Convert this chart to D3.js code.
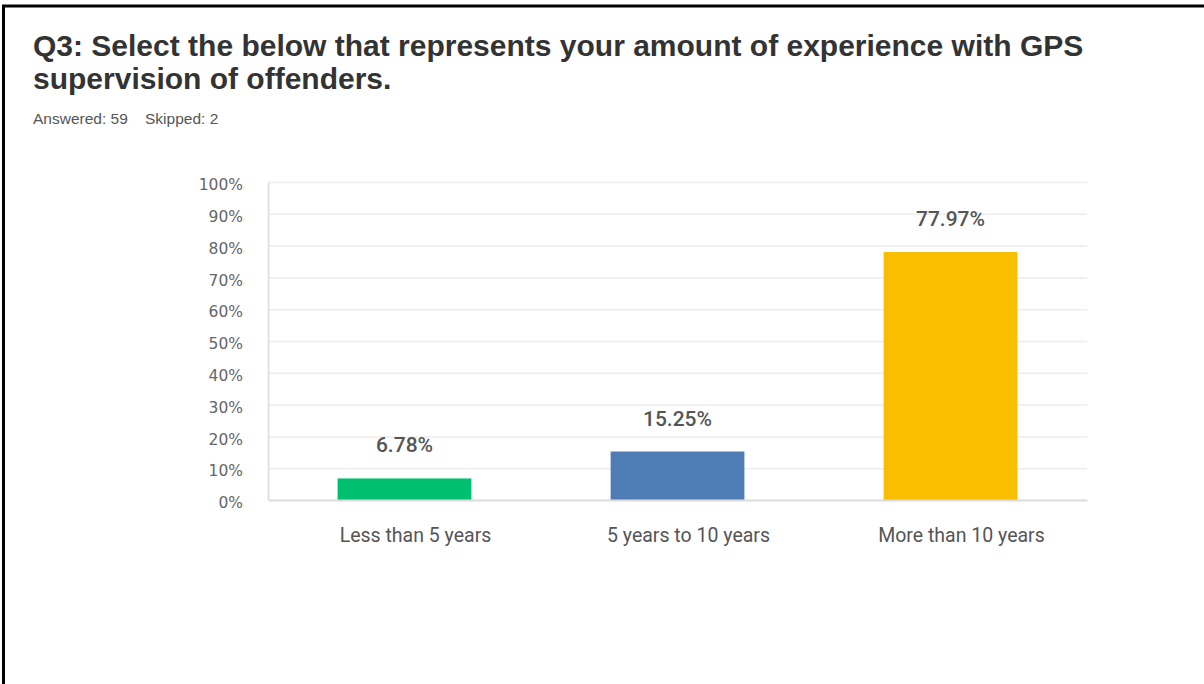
<!DOCTYPE html>
<html>
<head>
<meta charset="utf-8">
<script src="https://cdn.jsdelivr.net/npm/d3@7"></script>
<style>
  body { margin: 0; background: #fff; }
  #chart { width: 1204px; height: 684px; }
</style>
</head>
<body>
<div id="chart"></div>
<script>
// data
const categories = ["Less than 5 years", "5 years to 10 years", "More than 10 years"];
const values = [6.78, 15.25, 77.97];
const barColors = ["#00bf6f", "#507cb6", "#f9be00"];
const yTicks = [0, 10, 20, 30, 40, 50, 60, 70, 80, 90, 100];
const titleLines = [
    "Q3: Select the below that represents your amount of experience with GPS",
    "supervision of offenders."
];
const subtitle = "Answered: 59    Skipped: 2";

const width = 1204;
const height = 684;

const svg = d3.select("#chart")
  .append("svg")
    .attr("width", width)
    .attr("height", height);

// frame (top + left edge of the cropped screenshot)
svg.append("line")
    .attr("x1", 2).attr("x2", width).attr("y1", 6).attr("y2", 6)
    .attr("stroke", "#000").attr("stroke-width", 3);
svg.append("line")
    .attr("x1", 3.5).attr("x2", 3.5).attr("y1", 5).attr("y2", height)
    .attr("stroke", "#000").attr("stroke-width", 3);

// title
svg.selectAll(".title")
  .data(titleLines)
  .join("text")
    .attr("class", "title")
    .attr("x", 33)
    .attr("y", (d, i) => 56 + i * 33)
    .style("font-family", "'Liberation Sans', Arial, sans-serif")
    .style("font-weight", "bold")
    .style("font-size", "30px")
    .style("fill", "#333")
    .text(d => d);

svg.append("text")
    .attr("x", 33)
    .attr("y", 124)
    .style("font-family", "'Liberation Sans', Arial, sans-serif")
    .style("font-size", "15.5px")
    .style("fill", "#555")
    .attr("xml:space", "preserve")
    .text(subtitle);

// scales
const x = d3.scaleBand()
    .domain(categories)
    .range([268, 1087])
    .paddingInner(0.51)
    .paddingOuter(0.255);

const y = d3.scaleLinear()
    .domain([0, 100])
    .range([500, 182]);

// gridlines
svg.append("g")
  .selectAll("line")
  .data(yTicks.filter(d => d > 0))
  .join("line")
    .attr("x1", 268).attr("x2", 1087)
    .attr("y1", d => y(d) + 0.5).attr("y2", d => y(d) + 0.5)
    .attr("stroke", "#ededed")
    .attr("stroke-width", 1.5);

// y axis
const yAxis = svg.append("g")
    .attr("transform", "translate(268,0)")
    .call(d3.axisLeft(y).tickValues(yTicks).tickSize(0).tickPadding(25).tickFormat(d => d + "%"));
yAxis.select(".domain").attr("stroke", "#e2e2e2").attr("stroke-width", 2);
yAxis.selectAll("text")
    .attr("dy", "0.5em")
    .style("font-family", "'DejaVu Sans', sans-serif")
    .style("font-size", "15.5px")
    .style("fill", "#666");

// bars
svg.append("g")
  .selectAll("rect")
  .data(values)
  .join("rect")
    .attr("x", (d, i) => x(categories[i]))
    .attr("width", x.bandwidth())
    .attr("y", d => y(d))
    .attr("height", d => y(0) - y(d))
    .attr("fill", (d, i) => barColors[i]);

// x axis baseline + category labels
const xAxis = svg.append("g")
    .attr("transform", "translate(0,500)")
    .call(d3.axisBottom(x).tickSize(0).tickPadding(28));
xAxis.select(".domain").attr("stroke", "#dcdcdc").attr("stroke-width", 2);
xAxis.selectAll("text")
    .attr("dx", 11)
    .style("font-family", "Roboto, 'Open Sans', sans-serif")
    .style("font-size", "19.5px")
    .style("fill", "#555");

// value labels
svg.append("g")
  .selectAll("text")
  .data(values)
  .join("text")
    .attr("x", (d, i) => x(categories[i]) + x.bandwidth() / 2)
    .attr("y", d => y(d) - 26)
    .attr("text-anchor", "middle")
    .style("font-family", "Roboto, 'Open Sans', sans-serif")
    .style("font-weight", "500")
    .style("font-size", "21px")
    .style("fill", "#555")
    .text(d => d.toFixed(2) + "%");
</script>
</body>
</html>
